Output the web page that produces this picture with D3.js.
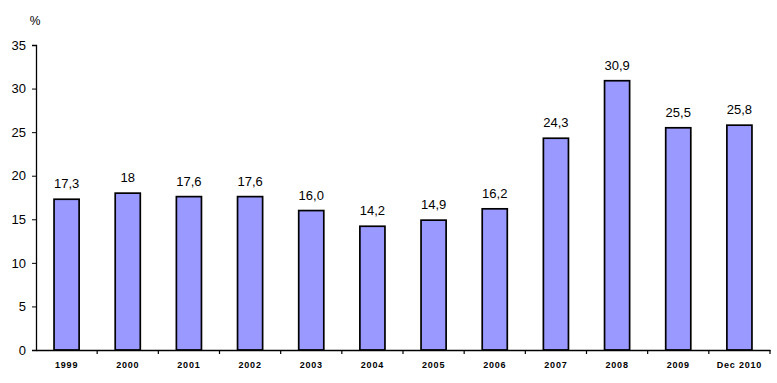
<!DOCTYPE html>
<html><head><meta charset="utf-8">
<script src="https://cdn.jsdelivr.net/npm/d3@7"></script>
<style>body{margin:0;background:#fff}svg{display:block}text{font-family:"Liberation Sans",Arial,sans-serif}</style>
</head><body>
<svg id="c" width="777" height="383"></svg>
<script>
const categories = ["1999","2000","2001","2002","2003","2004","2005","2006","2007","2008","2009","Dec 2010"];
const values = [17.3, 18, 17.6, 17.6, 16.0, 14.2, 14.9, 16.2, 24.3, 30.9, 25.5, 25.8];
const valueLabels = ["17,3","18","17,6","17,6","16,0","14,2","14,9","16,2","24,3","30,9","25,5","25,8"];
const yTicks = [0,5,10,15,20,25,30,35];
const unitLabel = "%";

const svg = d3.select("#c");
const x0 = 36, x1 = 770, yBase = 350, yTop = 45;
const x = d3.scaleBand().domain(categories).range([x0, x1]).paddingInner(0.59).paddingOuter(0.295);
const y = d3.scaleLinear().domain([0, 35]).range([yBase, yTop]);

// y axis
const ya = svg.append("g").attr("transform", `translate(${x0},0)`)
  .call(d3.axisLeft(y).tickValues(yTicks).tickSize(4).tickPadding(6));
ya.select(".domain").attr("stroke","#000").attr("stroke-width",1.3);
ya.selectAll(".tick line").attr("stroke","#000");
ya.selectAll(".tick text").attr("font-size",13).attr("fill","#000");

// bars
svg.append("g").selectAll("rect").data(values).join("rect")
  .attr("x", (d,i) => x(categories[i]))
  .attr("y", d => y(d))
  .attr("width", x.bandwidth())
  .attr("height", d => yBase - y(d))
  .attr("fill", "#9999ff")
  .attr("stroke", "#000")
  .attr("stroke-width", 1.7);

// x axis
const xa = svg.append("g").attr("transform", `translate(0,${yBase})`)
  .call(d3.axisBottom(x).tickSize(0).tickPadding(0));
xa.select(".domain").attr("stroke","#000").attr("stroke-width",1.3);
xa.selectAll(".tick text").attr("font-size",9).attr("font-weight","bold").attr("fill","#000")
  .attr("letter-spacing","0.8").attr("dy",null).attr("y",18);
// boundary ticks
const step = x.step();
xa.append("g").selectAll("line").data(d3.range(1, categories.length + 1)).join("line")
  .attr("x1", i => x0 + i*step).attr("x2", i => x0 + i*step)
  .attr("y1", 0).attr("y2", 4).attr("stroke","#000").attr("stroke-width",1.2);

// value labels
svg.append("g").selectAll("text").data(values).join("text")
  .attr("x", (d,i) => x(categories[i]) + x.bandwidth()/2)
  .attr("y", d => y(d) - 11)
  .attr("text-anchor","middle")
  .attr("font-size",13)
  .attr("fill","#000")
  .text((d,i) => valueLabels[i]);

// unit label
svg.append("text").attr("x", 35).attr("y", 25).attr("text-anchor","middle")
  .attr("font-size",12).attr("fill","#000").text(unitLabel);
</script>
</body></html>
